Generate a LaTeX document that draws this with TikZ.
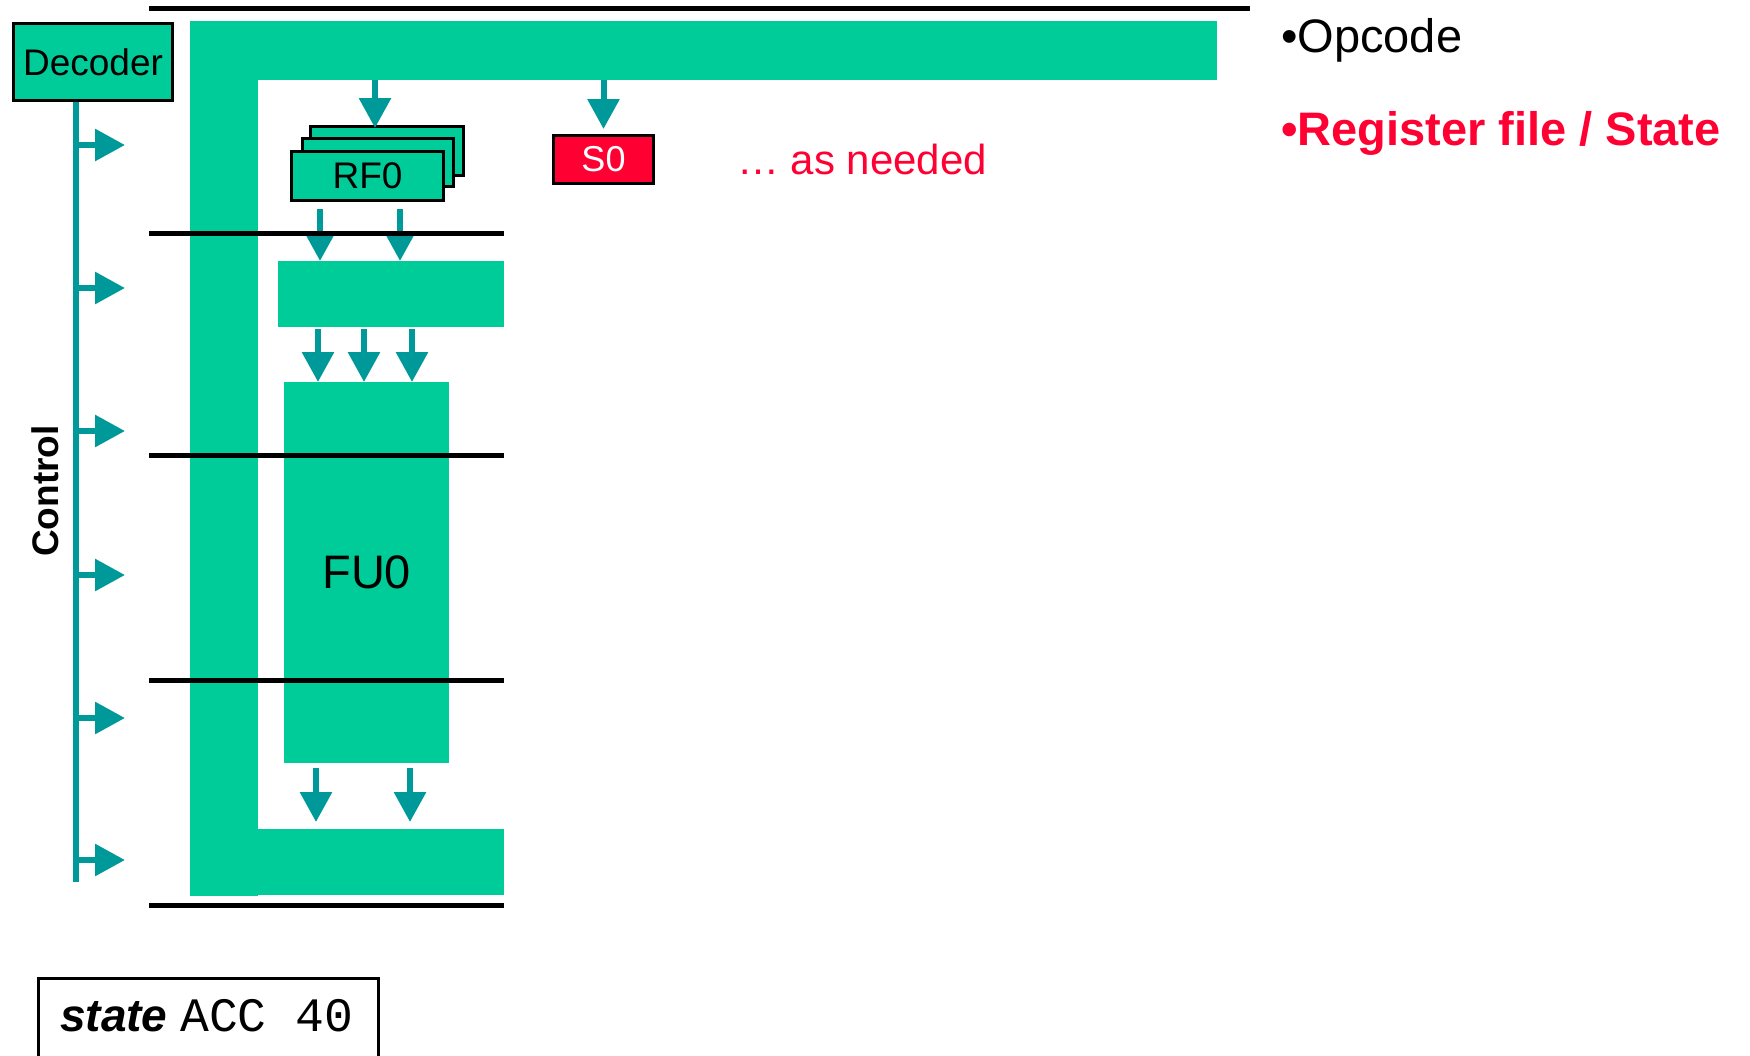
\documentclass[tikz,border=0pt]{standalone}
\usepackage{fontspec}
\setmainfont{Liberation Sans}
\setsansfont{Liberation Sans}
\setmonofont{Liberation Mono}
\usetikzlibrary{arrows.meta}
\definecolor{busgreen}{RGB}{0,204,153}
\definecolor{wireteal}{RGB}{0,153,153}
\definecolor{alertred}{RGB}{255,0,51}
\tikzset{
  block/.style={fill=busgreen,inner sep=0pt,anchor=north west},
  regbox/.style={block,draw=black,line width=3pt},
  flow/.style={wireteal,line width=6pt,-{Triangle[width=31pt,length=30pt]}},
  stage/.style={black,line width=5pt},
  label/.style={anchor=base west,inner sep=0pt},
}
\begin{document}
\begin{tikzpicture}[x=1pt,y=-1pt]
  \useasboundingbox (0,0) rectangle (1750,1055);
  % bus
  \node[block,minimum width=1027pt,minimum height=59pt] (bustop) at (190,21) {};
  \node[block,minimum width=68pt,minimum height=875pt] (busleft) at (190,21) {};
  \node[block,minimum width=246pt,minimum height=66pt] (busbot) at (258,829) {};

  \node[regbox,minimum width=159pt,minimum height=77pt,font=\fontsize{37}{40}\selectfont] (decoder) at (12,22) {Decoder};

  % register file stack and state
  \node[regbox,minimum width=153pt,minimum height=49pt] (rf2) at (309,125) {};
  \node[regbox,minimum width=151pt,minimum height=48pt] (rf1) at (301,137) {};
  \node[regbox,minimum width=152pt,minimum height=49pt,font=\fontsize{37}{40}\selectfont] (rf0) at (290,150) {RF0};
  \node[regbox,fill=alertred,text=white,minimum width=100pt,minimum height=48pt,font=\fontsize{36}{40}\selectfont] (s0) at (552,134) {S0};

  \node[block,minimum width=226pt,minimum height=66pt] (pipe) at (278,261) {};
  \node[block,minimum width=165pt,minimum height=381pt,font=\fontsize{47}{50}\selectfont] (fu0) at (284,382) {FU0};

  % data flow
  \coordinate (rfin) at (375,128);
  \draw[flow] (bustop.south -| rfin) -- (rfin);
  \draw[flow,shorten >=5pt] (bustop.south -| s0.north) -- (s0.north);
  \foreach \x in {320,400}
    \draw[flow,shorten <=7pt] (rf0.south -| \x,0) -- (pipe.north -| \x,0);
  \foreach \x in {318,364,412}
    \draw[flow,shorten <=2pt] (pipe.south -| \x,0) -- (fu0.north -| \x,0);
  \foreach \x in {316,410}
    \draw[flow,shorten <=5pt,shorten >=7pt] (fu0.south -| \x,0) -- (busbot.north -| \x,0);

  % control
  \draw[wireteal,line width=6pt] (decoder.south -| 76,0) -- (76,882);
  \foreach \y in {145,288,431,575,718,860}
    \draw[flow] (76,\y) -- (125,\y);
  \node[rotate=90,font=\bfseries\fontsize{37}{40}\selectfont] (ctrl) at (45,491) {Control};

  % stages
  \draw[stage] (149,8) -- (1250,8);
  \foreach \y in {233,455,680,905}
    \draw[stage] (149,\y) -- (504,\y);

  \node[label,text=alertred,font=\fontsize{42}{46}\selectfont] (needed) at (737,174) {… as needed};
  \node[label,font=\fontsize{47}{52}\selectfont] (opcode) at (1281,52) {•Opcode};
  \node[label,text=alertred,font=\bfseries\fontsize{47}{52}\selectfont] (regstate) at (1281,145) {•Register file / State};

  \draw[line width=3pt] (38,978) rectangle (378,1075);
  \node[label,font=\fontsize{46}{50}\selectfont] (statedecl) at (60,1031) {\textbf{\textit{state}} {\fontsize{48}{50}\selectfont\texttt{ACC 40}}};
\end{tikzpicture}
\end{document}
